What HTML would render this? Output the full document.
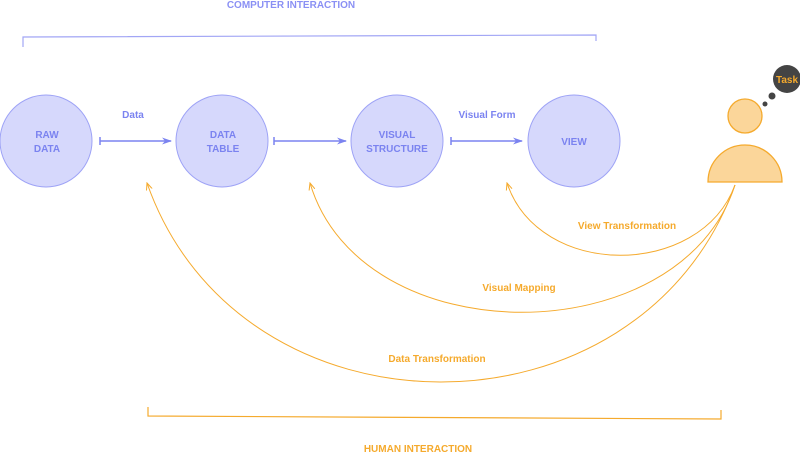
<!DOCTYPE html>
<html><head><meta charset="utf-8"><style>
html,body{margin:0;padding:0;background:#fff;width:800px;height:452px;overflow:hidden}
text{font-family:"Liberation Sans",sans-serif;font-weight:bold}
</style></head><body>
<svg width="800" height="452" viewBox="0 0 800 452" xmlns="http://www.w3.org/2000/svg">
<defs>
<marker id="ab" markerWidth="10" markerHeight="8" refX="9" refY="4" orient="auto" markerUnits="userSpaceOnUse"><path d="M0,0.5 L10,4 L0,7.5 L3,4z" fill="#7b83f0"/></marker>
<marker id="ao" markerWidth="8" markerHeight="8" refX="7" refY="4" orient="auto" markerUnits="userSpaceOnUse"><path d="M0,1 L7,4 L0,7" fill="none" stroke="#f5aa2d" stroke-width="1"/></marker>
</defs>
<text x="291" y="8" font-size="10" fill="#8a90f4" text-anchor="middle">COMPUTER  INTERACTION</text>
<path d="M23,47 V37 L596,35 V41" fill="none" stroke="#a2a6f5" stroke-width="1.2"/>
<g fill="#d6d8fc" stroke="#9ea3f6" stroke-width="1">
<circle cx="46" cy="141" r="46"/><circle cx="222" cy="141" r="46"/><circle cx="397" cy="141" r="46"/><circle cx="574" cy="141" r="46"/>
</g>
<g font-size="10" fill="#7b83f0" text-anchor="middle">
<text x="47" y="138">RAW</text><text x="47" y="152">DATA</text>
<text x="223" y="138">DATA</text><text x="223" y="152">TABLE</text>
<text x="397" y="138">VISUAL</text><text x="397" y="152">STRUCTURE</text>
<text x="574" y="145">VIEW</text>
<text x="133" y="118">Data</text><text x="487" y="118">Visual Form</text>
</g>
<g stroke="#7b83f0" stroke-width="1.5" fill="none">
<path d="M100,141 H171" marker-end="url(#ab)"/><path d="M100,137 V145"/>
<path d="M274,141 H346" marker-end="url(#ab)"/><path d="M274,137 V145"/>
<path d="M451,141 H522" marker-end="url(#ab)"/><path d="M451,137 V145"/>
</g>
<circle cx="787" cy="79" r="14" fill="#444"/>
<text x="787" y="83" font-size="10" fill="#f5aa2d" text-anchor="middle">Task</text>
<circle cx="772" cy="96" r="3.5" fill="#444"/><circle cx="765" cy="104" r="2.5" fill="#444"/>
<circle cx="745" cy="116" r="17" fill="#fbd69a" stroke="#f5aa2d" stroke-width="1.3"/>
<path d="M708,182 A37,37 0 0 1 782,182 Z" fill="#fbd69a" stroke="#f5aa2d" stroke-width="1.3"/>
<g stroke="#f5aa2d" stroke-width="1" fill="none">
<path d="M735,185 C 700,279 539,279 507,183" marker-end="url(#ao)"/>
<path d="M735,185 C 680,355 361,355 310,183" marker-end="url(#ao)"/>
<path d="M735,185 C 640,448 240,448 147,183" marker-end="url(#ao)"/>
<path d="M148,407 V416 L721,419 V410" stroke-width="1.2"/>
</g>
<g font-size="10" fill="#f5aa2d" text-anchor="middle">
<text x="627" y="229">View Transformation</text>
<text x="519" y="291">Visual Mapping</text>
<text x="437" y="362">Data Transformation</text>
<text x="418" y="452">HUMAN INTERACTION</text>
</g>
</svg>
</body></html>
